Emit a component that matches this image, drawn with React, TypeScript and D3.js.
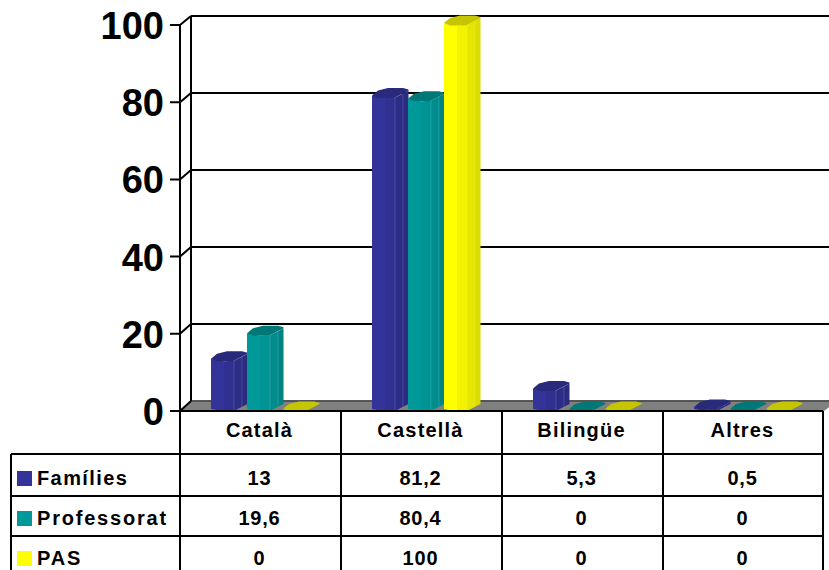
import { useEffect, useRef } from "react";
import * as d3 from "d3";

const categories = ["Català", "Castellà", "Bilingüe", "Altres"];
const seriesNames = ["Famílies", "Professorat", "PAS"];
const familiesValues = [13, 81.2, 5.3, 0.5];
const teachersValues = [19.6, 80.4, 0, 0];
const staffValues = [0, 100, 0, 0];
const yTicks = [0, 20, 40, 60, 80, 100];

const seriesValues = [familiesValues, teachersValues, staffValues];

// shades of each bar, left to right, then the cap
const barShades = [
  ["#333399", "#303090", "#2d2d88", "#2b2b80", "#2a2a7c"],
  ["#009999", "#009494", "#008c8c", "#008383", "#007878"],
  ["#ffff00", "#f3f300", "#e6e600", "#dcdc00", "#c6c600"],
];

const font = "'Liberation Sans', Arial, sans-serif";

export default function App() {
  const svgRef = useRef<SVGSVGElement>(null);

  useEffect(() => {
    if (!svgRef.current) return;

    const svg = d3.select(svgRef.current);
    svg.selectAll("*").remove();

    const width = 829;
    const height = 570;
    const tableLeft = 180;
    const tableRight = 824;
    const depth = 11;

    const yFront = d3.scaleLinear().domain([0, 100]).range([411, 25]);
    const yBack = d3.scaleLinear().domain([0, 100]).range([401, 16]);
    const yBar = d3.scaleLinear().domain([0, 100]).range([409, 23]);

    const xGroup = d3.scaleBand<string>().domain(categories).range([tableLeft, tableRight]).padding(0);
    const xBar = d3.scaleBand<string>()
      .domain(seriesNames)
      .range([31, 31 + 36 * seriesNames.length]);

    // Floor
    svg.append("polygon")
      .attr("points", `${tableLeft},411 ${tableLeft + depth},${yBack(0)} ${width + 8},${yBack(0)} ${tableRight},411`)
      .attr("fill", "#808080");

    // Back wall grid
    svg.selectAll(".grid")
      .data(yTicks)
      .enter()
      .append("line")
      .attr("x1", tableLeft + depth)
      .attr("x2", width)
      .attr("y1", d => yBack(d))
      .attr("y2", d => yBack(d))
      .attr("stroke", d => (d === 0 ? "#555" : "#000"))
      .attr("stroke-width", 2);

    // Side wall
    svg.selectAll(".wall")
      .data(yTicks)
      .enter()
      .append("path")
      .attr("d", d => `M${tableLeft - 10},${yFront(d)}H${tableLeft}L${tableLeft + depth},${yBack(d)}`)
      .attr("fill", "none")
      .attr("stroke", "#000")
      .attr("stroke-width", 2);

    svg.append("line")
      .attr("x1", tableLeft + depth).attr("x2", tableLeft + depth)
      .attr("y1", yBack(100)).attr("y2", yBack(0))
      .attr("stroke", "#000").attr("stroke-width", 2);
    svg.append("line")
      .attr("x1", tableLeft).attr("x2", tableLeft)
      .attr("y1", yFront(100)).attr("y2", yFront(0))
      .attr("stroke", "#000").attr("stroke-width", 2);

    // Y labels
    svg.selectAll(".ylabel")
      .data(yTicks)
      .enter()
      .append("text")
      .attr("x", 164)
      .attr("y", d => yFront(d) + 14)
      .attr("text-anchor", "end")
      .style("font-family", font)
      .style("font-weight", "700")
      .style("font-size", "38px")
      .text(d => d);

    // Bars: octagonal prisms, faces split at these offsets
    const faceEdges = [0, 13, 23, 31, 36.5];
    const edgeOffset = d3.scaleLinear().domain([0, 6, 22, 36.5]).range([0, 2.5, 2.5, -5]);
    const capPoints: [number, number][] = [[0, 0], [6, 2.5], [22, 2.5], [36.5, -5], [36.5, -6], [31, -7.5], [16, -7.5], [6, -5]];

    seriesNames.forEach((name, s) => {
      categories.forEach((cat, c) => {
        const value = seriesValues[s][c];
        const x0 = (xGroup(cat) || 0) + (xBar(name) || 0);
        const top = yBar(value);
        const base = yBar(0);
        const shades = barShades[s];
        const g = svg.append("g");

        if (value > 0) {
          d3.pairs(faceEdges).forEach(([a, b], i) => {
            g.append("polygon")
              .attr("points", [
                [x0 + a, top + edgeOffset(a)],
                [x0 + b, top + edgeOffset(b)],
                [x0 + b, base + edgeOffset(b)],
                [x0 + a, base + edgeOffset(a)],
              ].join(" "))
              .attr("fill", shades[i]);
          });
          // pale face edges
          [23, 31].forEach(u => {
            g.append("line")
              .attr("x1", x0 + u).attr("x2", x0 + u)
              .attr("y1", top + edgeOffset(u)).attr("y2", base + edgeOffset(u))
              .attr("stroke", "#fff").attr("stroke-opacity", 0.14);
          });
        }

        g.append("polygon")
          .attr("points", capPoints.map(([u, v]) => [x0 + u, top + v]).join(" "))
          .attr("fill", shades[4]);
      });
    });

    // Data table
    const rowLines = [411, 454, 496, 536];
    const rowBaselines = [485, 525, 565];
    const columnEdges = categories.map(c => xGroup(c) || 0).concat(tableRight - 1);

    svg.selectAll(".hline")
      .data(rowLines)
      .enter()
      .append("line")
      .attr("x1", (_, i) => (i === 0 ? tableLeft : 11))
      .attr("x2", tableRight - 1)
      .attr("y1", d => d)
      .attr("y2", d => d)
      .attr("stroke", "#000")
      .attr("stroke-width", 2);

    svg.selectAll(".vline")
      .data(columnEdges)
      .enter()
      .append("line")
      .attr("x1", d => d)
      .attr("x2", d => d)
      .attr("y1", 411)
      .attr("y2", height)
      .attr("stroke", "#000")
      .attr("stroke-width", 2);

    svg.append("line")
      .attr("x1", 11).attr("x2", 11)
      .attr("y1", 454).attr("y2", height)
      .attr("stroke", "#000").attr("stroke-width", 2);

    const cellText = (x: number, y: number, label: string, anchor: string, spacing: number) =>
      svg.append("text")
        .attr("x", x)
        .attr("y", y)
        .attr("text-anchor", anchor)
        .style("font-family", font)
        .style("font-weight", "700")
        .style("font-size", "20px")
        .style("letter-spacing", `${spacing}px`)
        .text(label);

    categories.forEach(cat => {
      cellText((xGroup(cat) || 0) + xGroup.bandwidth() / 2 - 1, 437, cat, "middle", 1.2);
    });

    seriesNames.forEach((name, s) => {
      svg.append("rect")
        .attr("x", 17)
        .attr("y", rowBaselines[s] - 14)
        .attr("width", 15)
        .attr("height", 15)
        .attr("fill", barShades[s][0]);
      cellText(37, rowBaselines[s], name, "start", name === "Famílies" ? 1.4 : 1.8);

      categories.forEach((cat, c) => {
        const label = String(seriesValues[s][c]).replace(".", ",");
        cellText((xGroup(cat) || 0) + xGroup.bandwidth() / 2 - 1, rowBaselines[s], label, "middle", 0.8);
      });
    });
  }, []);

  return (
    <div style={{ position: "absolute", left: 0, top: 0, background: "#fff" }}>
      <svg ref={svgRef} width={829} height={570} style={{ display: "block", overflow: "hidden" }} />
    </div>
  );
}
